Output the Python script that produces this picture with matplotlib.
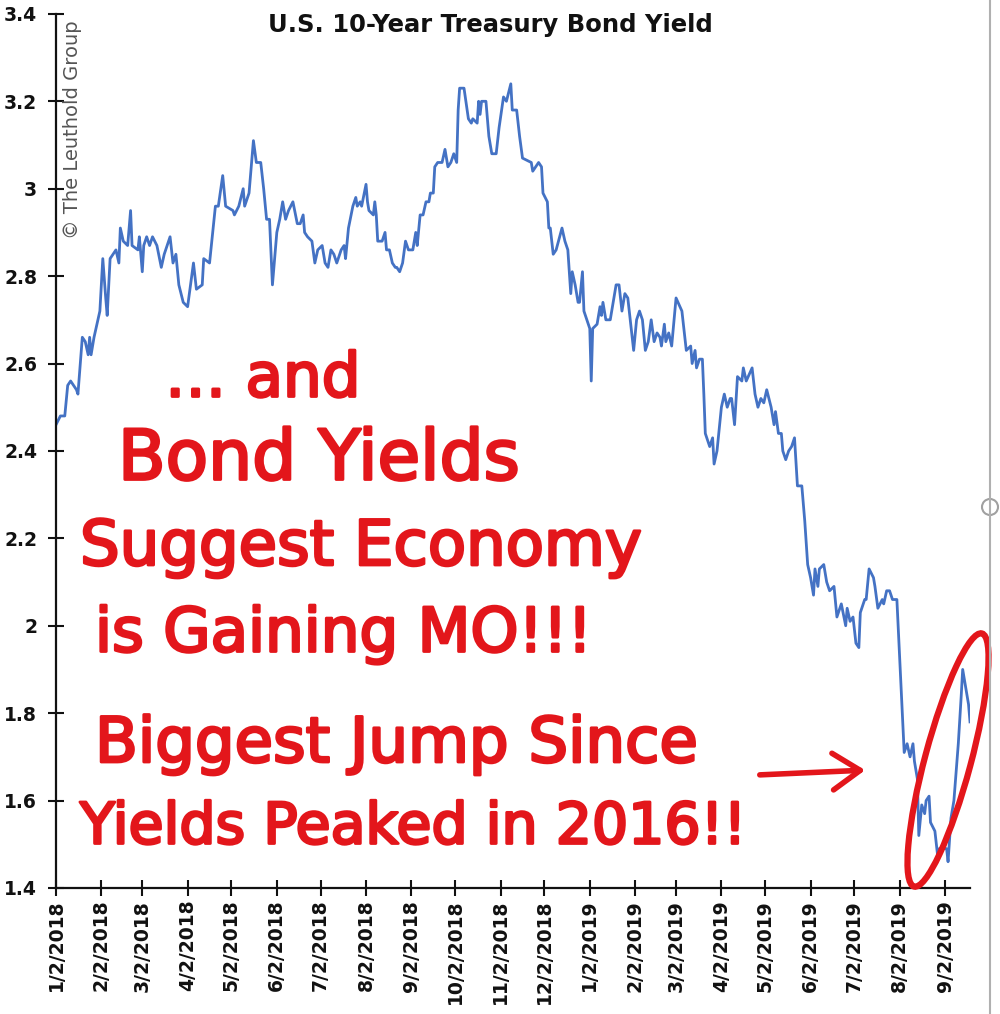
import pandas as pd
import matplotlib
matplotlib.use("Agg")
import matplotlib.pyplot as plt
import matplotlib.patheffects as pe
from matplotlib.patches import Ellipse, Circle
from matplotlib.lines import Line2D

# 10-year yield
dates = [
    "2018-01-02", "2018-01-05", "2018-01-08", "2018-01-10", "2018-01-12", "2018-01-16", "2018-01-17",
    "2018-01-20", "2018-01-22", "2018-01-24", "2018-01-25", "2018-01-26", "2018-01-28", "2018-01-30",
    "2018-02-01", "2018-02-03", "2018-02-05", "2018-02-06", "2018-02-08", "2018-02-10", "2018-02-12",
    "2018-02-14", "2018-02-15", "2018-02-17", "2018-02-20", "2018-02-22", "2018-02-23", "2018-02-27",
    "2018-02-28", "2018-03-02", "2018-03-03", "2018-03-05", "2018-03-07", "2018-03-09", "2018-03-12",
    "2018-03-15", "2018-03-17", "2018-03-21", "2018-03-23", "2018-03-25", "2018-03-27", "2018-03-30",
    "2018-04-02", "2018-04-06", "2018-04-08", "2018-04-12", "2018-04-13", "2018-04-17", "2018-04-21",
    "2018-04-23", "2018-04-26", "2018-04-28", "2018-05-03", "2018-05-04", "2018-05-07", "2018-05-10",
    "2018-05-11", "2018-05-14", "2018-05-17", "2018-05-19", "2018-05-22", "2018-05-24", "2018-05-26",
    "2018-05-28", "2018-05-30", "2018-06-02", "2018-06-04", "2018-06-06", "2018-06-08", "2018-06-10",
    "2018-06-13", "2018-06-16", "2018-06-18", "2018-06-20", "2018-06-21", "2018-06-23", "2018-06-26",
    "2018-06-28", "2018-06-30", "2018-07-03", "2018-07-05", "2018-07-07", "2018-07-09", "2018-07-11",
    "2018-07-13", "2018-07-16", "2018-07-18", "2018-07-19", "2018-07-21", "2018-07-24", "2018-07-26",
    "2018-07-27", "2018-07-29", "2018-07-30", "2018-08-02", "2018-08-03", "2018-08-04", "2018-08-07",
    "2018-08-08", "2018-08-09", "2018-08-10", "2018-08-13", "2018-08-15", "2018-08-16", "2018-08-18",
    "2018-08-20", "2018-08-22", "2018-08-23", "2018-08-25", "2018-08-27", "2018-08-29", "2018-08-31",
    "2018-09-03", "2018-09-05", "2018-09-06", "2018-09-08", "2018-09-10", "2018-09-12", "2018-09-14",
    "2018-09-15", "2018-09-17", "2018-09-18", "2018-09-20", "2018-09-23", "2018-09-25", "2018-09-27",
    "2018-09-29", "2018-10-01", "2018-10-03", "2018-10-04", "2018-10-05", "2018-10-08", "2018-10-11",
    "2018-10-13", "2018-10-14", "2018-10-17", "2018-10-18", "2018-10-19", "2018-10-20", "2018-10-23",
    "2018-10-25", "2018-10-27", "2018-10-30", "2018-11-01", "2018-11-04", "2018-11-06", "2018-11-09",
    "2018-11-10", "2018-11-13", "2018-11-15", "2018-11-17", "2018-11-23", "2018-11-24", "2018-11-28",
    "2018-11-30", "2018-12-01", "2018-12-04", "2018-12-05", "2018-12-06", "2018-12-08", "2018-12-10",
    "2018-12-14", "2018-12-16", "2018-12-18", "2018-12-20", "2018-12-21", "2018-12-23", "2018-12-25",
    "2018-12-26", "2018-12-28", "2018-12-29", "2018-12-31", "2019-01-02", "2019-01-03", "2019-01-04",
    "2019-01-07", "2019-01-09", "2019-01-10", "2019-01-11", "2019-01-13", "2019-01-16", "2019-01-18",
    "2019-01-20", "2019-01-22", "2019-01-24", "2019-01-26", "2019-01-28", "2019-02-01", "2019-02-03",
    "2019-02-05", "2019-02-07", "2019-02-09", "2019-02-11", "2019-02-13", "2019-02-15", "2019-02-17",
    "2019-02-19", "2019-02-20", "2019-02-22", "2019-02-23", "2019-02-25", "2019-02-27", "2019-03-02",
    "2019-03-06", "2019-03-07", "2019-03-09", "2019-03-12", "2019-03-13", "2019-03-15", "2019-03-16",
    "2019-03-18", "2019-03-20", "2019-03-21", "2019-03-22", "2019-03-25", "2019-03-27", "2019-03-28",
    "2019-03-30", "2019-04-02", "2019-04-04", "2019-04-06", "2019-04-08", "2019-04-09", "2019-04-11",
    "2019-04-13", "2019-04-16", "2019-04-17", "2019-04-19", "2019-04-23", "2019-04-25", "2019-04-27",
    "2019-04-29", "2019-05-01", "2019-05-03", "2019-05-06", "2019-05-08", "2019-05-09", "2019-05-11",
    "2019-05-13", "2019-05-14", "2019-05-16", "2019-05-18", "2019-05-20", "2019-05-22", "2019-05-24",
    "2019-05-27", "2019-05-29", "2019-05-31", "2019-06-02", "2019-06-04", "2019-06-05", "2019-06-07",
    "2019-06-08", "2019-06-11", "2019-06-13", "2019-06-15", "2019-06-18", "2019-06-20", "2019-06-22",
    "2019-06-23", "2019-06-26", "2019-06-27", "2019-06-29", "2019-07-01", "2019-07-03", "2019-07-05",
    "2019-07-06", "2019-07-09", "2019-07-10", "2019-07-12", "2019-07-15", "2019-07-16", "2019-07-18",
    "2019-07-21", "2019-07-22", "2019-07-24", "2019-07-26", "2019-07-28", "2019-07-31", "2019-08-05",
    "2019-08-07", "2019-08-09", "2019-08-11", "2019-08-12", "2019-08-14", "2019-08-15", "2019-08-17",
    "2019-08-19", "2019-08-20", "2019-08-22", "2019-08-23", "2019-08-26", "2019-08-28", "2019-08-29",
    "2019-08-31", "2019-09-03", "2019-09-04", "2019-09-06", "2019-09-08", "2019-09-11", "2019-09-13",
    "2019-09-14", "2019-09-16", "2019-09-18", "2019-09-19",
]
yields = [
    2.46, 2.48, 2.48, 2.55, 2.56, 2.54, 2.53,
    2.66, 2.65, 2.62, 2.66, 2.62, 2.66, 2.69,
    2.72, 2.84, 2.75, 2.71, 2.84, 2.85, 2.86,
    2.83, 2.91, 2.88, 2.87, 2.95, 2.87, 2.86,
    2.89, 2.81, 2.87, 2.89, 2.87, 2.89, 2.87,
    2.82, 2.85, 2.89, 2.83, 2.85, 2.78, 2.74,
    2.73, 2.83, 2.77, 2.78, 2.84, 2.83, 2.96,
    2.96, 3.03, 2.96, 2.95, 2.94, 2.96, 3.00,
    2.96, 2.99, 3.11, 3.06, 3.06, 3.00, 2.93,
    2.93, 2.78, 2.90, 2.93, 2.97, 2.93, 2.95,
    2.97, 2.92, 2.92, 2.94, 2.90, 2.89, 2.88,
    2.83, 2.86, 2.87, 2.83, 2.82, 2.86, 2.85,
    2.83, 2.86, 2.87, 2.84, 2.91, 2.96, 2.98,
    2.96, 2.97, 2.96, 3.01, 2.97, 2.95, 2.94,
    2.97, 2.94, 2.88, 2.88, 2.90, 2.86, 2.86,
    2.83, 2.82, 2.82, 2.81, 2.83, 2.88, 2.86,
    2.86, 2.90, 2.87, 2.94, 2.94, 2.97, 2.97,
    2.99, 2.99, 3.05, 3.06, 3.06, 3.09, 3.05,
    3.06, 3.08, 3.06, 3.18, 3.23, 3.23, 3.16,
    3.15, 3.16, 3.15, 3.20, 3.17, 3.20, 3.20,
    3.12, 3.08, 3.08, 3.14, 3.21, 3.20, 3.24,
    3.18, 3.18, 3.12, 3.07, 3.06, 3.04, 3.06,
    3.05, 2.99, 2.97, 2.91, 2.91, 2.85, 2.86,
    2.91, 2.88, 2.86, 2.76, 2.81, 2.78, 2.74,
    2.74, 2.81, 2.72, 2.70, 2.68, 2.56, 2.68,
    2.69, 2.73, 2.71, 2.74, 2.70, 2.70, 2.74,
    2.78, 2.78, 2.72, 2.76, 2.75, 2.63, 2.70,
    2.72, 2.70, 2.63, 2.65, 2.70, 2.65, 2.67,
    2.66, 2.64, 2.69, 2.65, 2.67, 2.64, 2.75,
    2.72, 2.69, 2.63, 2.64, 2.60, 2.63, 2.59,
    2.61, 2.61, 2.53, 2.44, 2.41, 2.43, 2.37,
    2.40, 2.50, 2.53, 2.50, 2.52, 2.52, 2.46,
    2.57, 2.56, 2.59, 2.56, 2.59, 2.53, 2.50,
    2.52, 2.51, 2.54, 2.50, 2.46, 2.49, 2.44,
    2.44, 2.40, 2.38, 2.40, 2.41, 2.43, 2.32,
    2.32, 2.24, 2.14, 2.11, 2.07, 2.13, 2.09,
    2.13, 2.14, 2.10, 2.08, 2.09, 2.02, 2.04,
    2.05, 2.00, 2.04, 2.01, 2.02, 1.96, 1.95,
    2.03, 2.06, 2.06, 2.13, 2.11, 2.09, 2.04,
    2.06, 2.05, 2.08, 2.08, 2.06, 2.06, 1.71,
    1.73, 1.70, 1.73, 1.69, 1.65, 1.52, 1.59,
    1.57, 1.60, 1.61, 1.55, 1.53, 1.47, 1.49,
    1.49, 1.49, 1.46, 1.56, 1.60, 1.73, 1.84,
    1.90, 1.86, 1.82, 1.78,
]

x_tick_dates = [
    "2018-01-02", "2018-02-02", "2018-03-02", "2018-04-02", "2018-05-02", "2018-06-02", "2018-07-02",
    "2018-08-02", "2018-09-02", "2018-10-02", "2018-11-02", "2018-12-02", "2019-01-02", "2019-02-02",
    "2019-03-02", "2019-04-02", "2019-05-02", "2019-06-02", "2019-07-02", "2019-08-02", "2019-09-02",
]
x_tick_labels = [
    "1/2/2018", "2/2/2018", "3/2/2018", "4/2/2018", "5/2/2018", "6/2/2018", "7/2/2018",
    "8/2/2018", "9/2/2018", "10/2/2018", "11/2/2018", "12/2/2018", "1/2/2019", "2/2/2019",
    "3/2/2019", "4/2/2019", "5/2/2019", "6/2/2019", "7/2/2019", "8/2/2019", "9/2/2019",
]
y_ticks = [1.4, 1.6, 1.8, 2.0, 2.2, 2.4, 2.6, 2.8, 3.0, 3.2, 3.4]
y_tick_labels = ["1.4", "1.6", "1.8", "2", "2.2", "2.4", "2.6", "2.8", "3", "3.2", "3.4"]

title = "U.S. 10-Year Treasury Bond Yield"
watermark = "\u00a9 The Leuthold Group"
scribble_lines = [
    "\u2026 and",
    "Bond Yields",
    "Suggest Economy",
    "is Gaining MO!!!",
    "Biggest Jump Since",
    "Yields Peaked in 2016!!",
]

RED = "#e3161b"
BLUE = "#4472c4"

fig = plt.figure(figsize=(10, 10.14), dpi=100)
ax = fig.add_axes([0.056, 0.1243, 0.914, 0.862])

ax.plot(pd.to_datetime(dates), yields, color=BLUE, linewidth=2.0)

ax.set_ylim(1.4, 3.4)
ax.set_xlim(pd.Timestamp("2018-01-02"), pd.Timestamp("2019-09-19"))
ax.set_yticks(y_ticks)
ax.set_yticklabels(y_tick_labels)
ax.set_xticks(pd.to_datetime(x_tick_dates))
ax.set_xticklabels(x_tick_labels, rotation=90)

for s in ["top", "right"]:
    ax.spines[s].set_visible(False)
for s in ["left", "bottom"]:
    ax.spines[s].set_linewidth(1.6)
    ax.spines[s].set_color("#111111")
ax.tick_params(axis="both", direction="inout", length=11, width=1.5, color="#111111")
ax.tick_params(axis="y", pad=8)
ax.tick_params(axis="x", pad=3)
for lab in ax.get_yticklabels() + ax.get_xticklabels():
    lab.set_fontsize(13.5)
    lab.set_fontweight("bold")
    lab.set_color("#111111")

fig.text(0.49, 0.975, title, ha="center", va="center", fontsize=17.5,
         fontweight="bold", color="#111111")
fig.text(0.072, 0.98, watermark, rotation=90, ha="center", va="top",
         fontsize=14, color="#555555")

# handwritten notes: (left px, centre y px, size)
note_layout = [(165, 380, 44), (118, 460, 50), (80, 548, 45), (95, 635, 44),
               (95, 745, 45), (80, 828, 41)]
marker = [pe.withStroke(linewidth=2, foreground=RED)]
for txt, (px, py, size) in zip(scribble_lines, note_layout):
    fig.text(px / 1000, 1 - py / 1014, txt, ha="left", va="center",
             fontsize=size, color=RED, path_effects=marker)

# red loop round the last rise, and the arrow pointing at it
fig.patches.append(Ellipse((9.48, 2.54), 2.62, 0.46, angle=75, fill=False,
                           edgecolor=RED, linewidth=4.5, transform=fig.dpi_scale_trans))
ax.annotate("", xy=(0.868, 1 - 770 / 1014), xytext=(0.757, 1 - 775 / 1014),
            xycoords="figure fraction", textcoords="figure fraction",
            arrowprops=dict(arrowstyle="->,head_length=0.9,head_width=0.6",
                            color=RED, lw=4, mutation_scale=22))

# screenshot frame edge on the right
fig.lines.append(Line2D([0.99, 0.99], [0, 1], transform=fig.transFigure,
                        color="#b0b0b0", linewidth=1.5))
fig.patches.append(Circle((9.9, 10.14 - 5.07), 0.08, facecolor="white",
                          edgecolor="#a0a0a0", linewidth=1.5,
                          transform=fig.dpi_scale_trans))

fig.savefig("out.png", dpi=100)
